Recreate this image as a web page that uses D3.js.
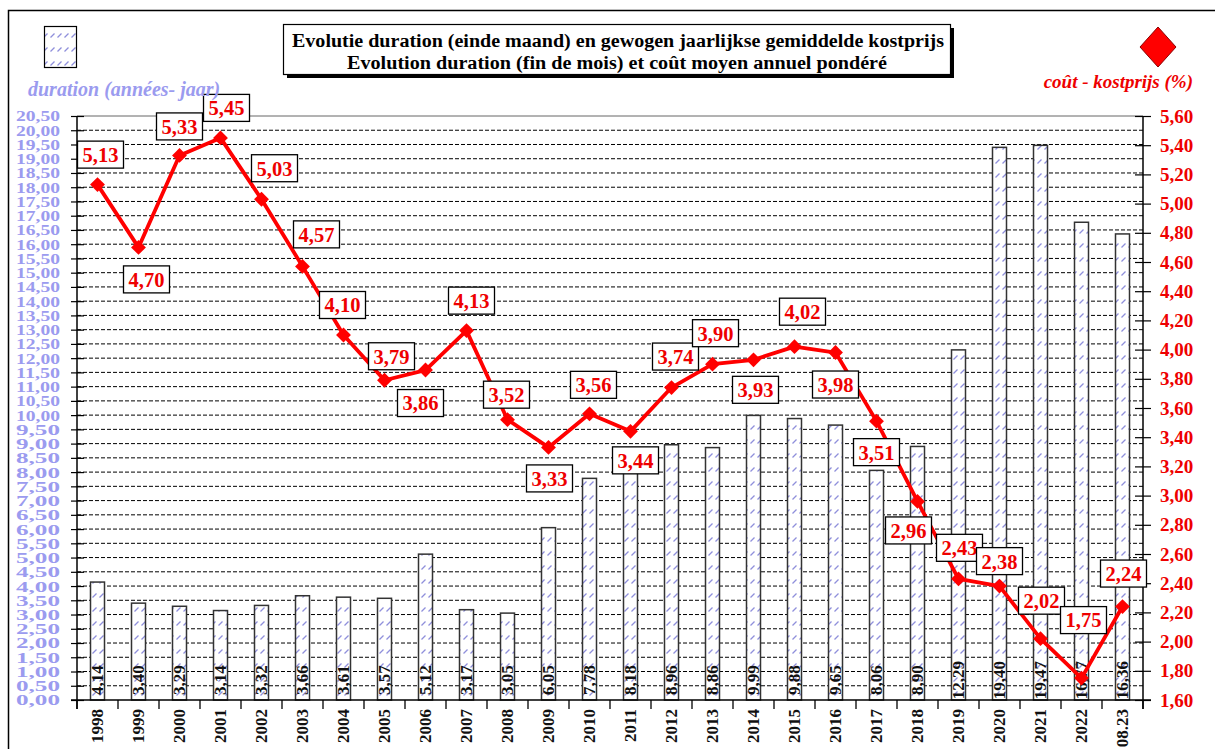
<!DOCTYPE html>
<html><head><meta charset="utf-8">
<script src="https://cdn.jsdelivr.net/npm/d3@7"></script>
<style>
body{margin:0;background:#fff;}
svg{display:block;font-family:"Liberation Serif","Times New Roman",serif;}
</style>
</head><body>
<svg id="c" width="1215" height="749"></svg>
<script>
// ---------- DATA ----------
const categories = ["1998","1999","2000","2001","2002","2003","2004","2005","2006","2007","2008","2009","2010",
  "2011","2012","2013","2014","2015","2016","2017","2018","2019","2020","2021","2022","08.23"];
const duration = [4.14,3.40,3.29,3.14,3.32,3.66,3.61,3.57,5.12,3.17,3.05,6.05,7.78,
  8.18,8.96,8.86,9.99,9.88,9.65,8.06,8.90,12.29,19.40,19.47,16.77,16.36];
const cost = [5.13,4.70,5.33,5.45,5.03,4.57,4.10,3.79,3.86,4.13,3.52,3.33,3.56,
  3.44,3.74,3.90,3.93,4.02,3.98,3.51,2.96,2.43,2.38,2.02,1.75,2.24];
const leftTicks = [0,0.5,1,1.5,2,2.5,3,3.5,4,4.5,5,5.5,6,6.5,7,7.5,8,8.5,9,9.5,10,10.5,11,11.5,12,12.5,
  13,13.5,14,14.5,15,15.5,16,16.5,17,17.5,18,18.5,19,19.5,20,20.5];
const rightTicks = [1.6,1.8,2.0,2.2,2.4,2.6,2.8,3.0,3.2,3.4,3.6,3.8,4.0,4.2,4.4,4.6,4.8,5.0,5.2,5.4,5.6];
const titleLines = ["Evolutie duration  (einde maand)  en gewogen jaarlijkse  gemiddelde  kostprijs",
  "Evolution  duration  (fin de mois) et coût moyen  annuel pondéré"];
const leftTitle = "duration (années- jaar)";
const rightTitle = "coût - kostprijs (%)";

// ---------- LAYOUT (label box offsets relative to each point) ----------
const labelOffsets = [[3,-30],[8,32],[0,-29],[6,-30],[13,-31],[14,-32],[-1,-30],[7,-24],[-5,33],[5,-30],
  [-1,-25],[1,31],[4,-29],[5,29],[4,-31],[3,-31],[2,30],[8,-35],[0,32],[0,31],[-9,29],[1,-31],[0,-25],
  [1,-38],[2,-58],[1,-33]];

const svg = d3.select("#c");
const fmt = v => d3.format(".2f")(v).replace(".", ",");
const LBLUE = "#9b9bef", RED = "#ff0000", TXTRED = "#ee0000";

const x = d3.scaleBand().domain(categories).range([77,1143]).padding(0);
const yL = d3.scaleLinear().domain([0,20.5]).range([700,116]);
const yR = d3.scaleLinear().domain([1.6,5.6]).range([700,116]);
const cx = d => x(d) + x.bandwidth()/2;

// pattern
const defs = svg.append("defs");
const pat = defs.append("pattern").attr("id","hatch").attr("patternUnits","userSpaceOnUse")
  .attr("width",7).attr("height",14);
pat.append("rect").attr("width",7).attr("height",14).attr("fill","#fff");
pat.append("line").attr("x1",1.5).attr("y1",9.5).attr("x2",5.5).attr("y2",5.5)
  .attr("stroke","#8f8fdc").attr("stroke-width",1.2);

// outer frame
svg.append("rect").attr("x",8.5).attr("y",10.5).attr("width",1230).attr("height",760)
  .attr("fill","none").attr("stroke","#000").attr("stroke-width",1.5);

// gridlines
svg.append("g").selectAll("line").data(leftTicks.filter(v => v > 0)).join("line")
  .attr("x1",77).attr("x2",1143).attr("y1",d=>yL(d)).attr("y2",d=>yL(d))
  .attr("stroke", d => d === 20.5 ? "#666" : "#000")
  .attr("stroke-width",1)
  .attr("stroke-dasharray", d => d === 20.5 ? null : "4,2");

// bars
svg.append("g").selectAll("rect").data(categories).join("rect")
  .attr("x", d => cx(d) - 7).attr("width", 14)
  .attr("y", (d,i) => yL(duration[i])).attr("height", (d,i) => yL(0) - yL(duration[i]))
  .attr("fill","url(#hatch)").attr("stroke","#333").attr("stroke-width",1.5);

// bar values
svg.append("g").selectAll("text").data(categories).join("text")
  .attr("transform", d => `translate(${cx(d)},680) rotate(-90)`)
  .attr("text-anchor","middle").attr("dy","0.35em")
  .attr("font-size",17).attr("font-weight","bold").attr("fill","#111")
  .text((d,i) => fmt(duration[i]));

// left axis
const gL = svg.append("g").attr("transform","translate(77,0)")
  .call(d3.axisLeft(yL).tickValues(leftTicks).tickFormat(fmt).tickSizeOuter(0));
gL.select(".domain").remove();
gL.selectAll(".tick line").attr("x1",7).attr("x2",-6).attr("stroke","#000").attr("stroke-width",1.2);
gL.selectAll(".tick text").attr("x",-17).attr("font-size",15.5).attr("font-weight","bold")
  .attr("fill",LBLUE).attr("font-family","Liberation Serif, serif")
  .attr("textLength",44).attr("lengthAdjust","spacingAndGlyphs");
svg.append("line").attr("x1",77).attr("x2",77).attr("y1",116).attr("y2",709).attr("stroke","#000").attr("stroke-width",1.5);

// right axis
const gR = svg.append("g").attr("transform","translate(1143,0)")
  .call(d3.axisRight(yR).tickValues(rightTicks).tickFormat(fmt).tickSizeOuter(0));
gR.select(".domain").remove();
gR.selectAll(".tick line").attr("x1",-8).attr("x2",8).attr("stroke","#000").attr("stroke-width",1.2);
gR.selectAll(".tick text").attr("x",17).attr("font-size",19).attr("font-weight","bold")
  .attr("fill",TXTRED).attr("font-family","Liberation Serif, serif");
svg.append("line").attr("x1",1143).attr("x2",1143).attr("y1",116).attr("y2",709).attr("stroke","#000").attr("stroke-width",1.5);

// bottom axis
const gB = svg.append("g").attr("transform","translate(0,700)")
  .call(d3.axisBottom(x).tickSize(0).tickSizeOuter(0));
gB.select(".domain").remove();
gB.selectAll(".tick text")
  .attr("transform","rotate(-90)").attr("x",-9).attr("y",0).attr("dy","0.35em")
  .attr("text-anchor","end").attr("font-size",17).attr("font-weight","bold")
  .attr("fill","#111").attr("font-family","Liberation Serif, serif");
svg.append("line").attr("x1",71).attr("x2",1151).attr("y1",700).attr("y2",700).attr("stroke","#000").attr("stroke-width",1.5);
const bounds = categories.map(d => x(d)).concat([x.range()[1]]);
svg.append("g").selectAll("line").data(bounds).join("line")
  .attr("x1",d=>d).attr("x2",d=>d).attr("y1",700).attr("y2",709)
  .attr("stroke","#000").attr("stroke-width",1.3);

// cost line
const line = d3.line().x((d,i) => cx(categories[i])).y(d => yR(d));
svg.append("path").datum(cost).attr("d",line).attr("fill","none")
  .attr("stroke",RED).attr("stroke-width",3.8).attr("stroke-linejoin","round");
svg.append("g").selectAll("path").data(cost).join("path")
  .attr("transform",(d,i) => `translate(${cx(categories[i])},${yR(d)}) rotate(45)`)
  .attr("d", d3.symbol().type(d3.symbolSquare).size(110))
  .attr("fill",RED);

// cost labels
const lg = svg.append("g").selectAll("g").data(cost).join("g")
  .attr("transform",(d,i) => `translate(${cx(categories[i]) + labelOffsets[i][0]},${yR(d) + labelOffsets[i][1]})`);
lg.append("rect").attr("x",-23).attr("y",-13.5).attr("width",46).attr("height",27)
  .attr("fill","#fff").attr("stroke","#000").attr("stroke-width",1.3);
lg.append("text").attr("text-anchor","middle").attr("dy","0.36em")
  .attr("font-size",20.5).attr("font-weight","bold").attr("fill",TXTRED)
  .text(d => fmt(d));

// title box
svg.append("rect").attr("x",287).attr("y",28).attr("width",667).attr("height",50).attr("fill","#000");
svg.append("rect").attr("x",283.5).attr("y",24.5).attr("width",667).attr("height",50)
  .attr("fill","#fff").attr("stroke","#000").attr("stroke-width",1.2);
svg.append("text").attr("x",618).attr("y",47).attr("text-anchor","middle")
  .attr("font-size",18.5).attr("font-weight","bold").attr("fill","#000")
  .attr("textLength",652).attr("lengthAdjust","spacingAndGlyphs").text(titleLines[0]);
svg.append("text").attr("x",617).attr("y",69).attr("text-anchor","middle")
  .attr("font-size",18.5).attr("font-weight","bold").attr("fill","#000")
  .attr("textLength",540).attr("lengthAdjust","spacingAndGlyphs").text(titleLines[1]);

// left legend
svg.append("rect").attr("x",44.5).attr("y",26.5).attr("width",32).attr("height",41)
  .attr("fill","url(#hatch)").attr("stroke","#000").attr("stroke-width",1.2);
svg.append("text").attr("x",28).attr("y",96).attr("font-size",20).attr("font-weight","bold")
  .attr("font-style","italic").attr("fill",LBLUE).text(leftTitle);

// right legend
svg.append("path").attr("d","M1158,27 L1176,47 L1158,67 L1140,47 Z")
  .attr("fill",RED).attr("stroke","#8b0000").attr("stroke-width",1);
svg.append("text").attr("x",1193).attr("y",88).attr("text-anchor","end").attr("font-size",19)
  .attr("font-weight","bold").attr("font-style","italic").attr("fill",TXTRED).text(rightTitle);
</script>
</body></html>
